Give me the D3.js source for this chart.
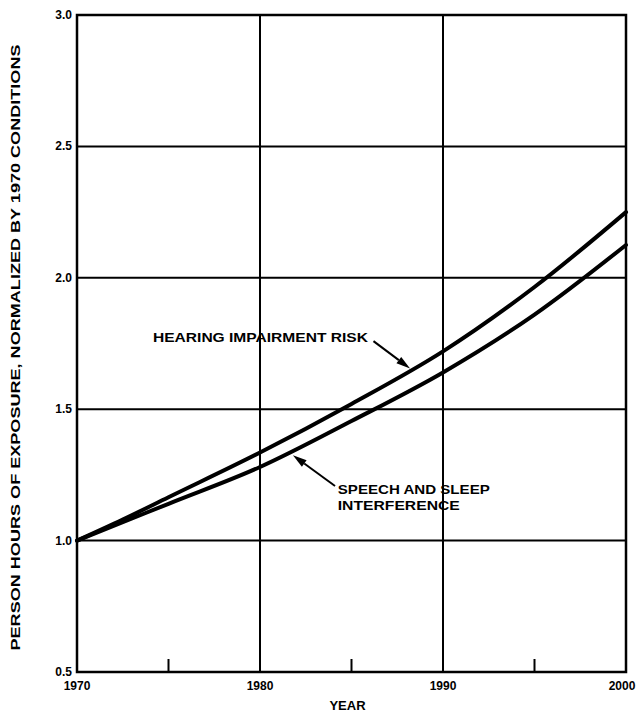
<!DOCTYPE html>
<html>
<head>
<meta charset="utf-8">
<script src="https://cdn.jsdelivr.net/npm/d3@7"></script>
<style>
  body { margin: 0; background: #fff; }
  text { font-family: "Liberation Sans", Arial, sans-serif; font-weight: bold; fill: #000; }
</style>
</head>
<body>
<script>
// values
const years = [1970, 1972.5, 1975, 1980, 1985, 1990, 1995, 2000]
const hearingRisk = [1.0, 1.08, 1.165, 1.335, 1.52, 1.72, 1.965, 2.25]
const speechSleep = [1.0, 1.07, 1.14, 1.28, 1.455, 1.64, 1.86, 2.125]

const xGrid = [1980, 1990]
const xMinorTicks = [1975, 1985, 1995]
const xTickLabels = [1970, 1980, 1990, 2000]
const yTicks = [0.5, 1.0, 1.5, 2.0, 2.5, 3.0]

const margin = { top: 15, left: 77, right: 14, bottom: 44 },
    width = 640,
    height = 716

const x = d3.scaleLinear()
    .domain([1970, 2000])
    .range([margin.left, width - margin.right])

const y = d3.scaleLinear()
    .domain([0.5, 3.0])
    .range([height - margin.bottom, margin.top])

const svg = d3.select("body").append("svg")
    .attr("width", width)
    .attr("height", height)

// grid
svg.selectAll(".hgrid")
    .data(yTicks.filter(v => v > 0.5 && v < 3.0))
    .enter()
    .append("line")
    .attr("x1", x(1970)).attr("x2", x(2000))
    .attr("y1", d => y(d)).attr("y2", d => y(d))
    .attr("stroke", "#000").attr("stroke-width", 2)

svg.selectAll(".vgrid")
    .data(xGrid)
    .enter()
    .append("line")
    .attr("x1", d => x(d)).attr("x2", d => x(d))
    .attr("y1", y(0.5)).attr("y2", y(3.0))
    .attr("stroke", "#000").attr("stroke-width", 2)

svg.selectAll(".minor")
    .data(xMinorTicks)
    .enter()
    .append("line")
    .attr("x1", d => x(d)).attr("x2", d => x(d))
    .attr("y1", y(0.5)).attr("y2", y(0.5) - 13)
    .attr("stroke", "#000").attr("stroke-width", 2)

// frame
svg.append("rect")
    .attr("x", x(1970)).attr("y", y(3.0))
    .attr("width", x(2000) - x(1970))
    .attr("height", y(0.5) - y(3.0))
    .attr("fill", "none")
    .attr("stroke", "#000")
    .attr("stroke-width", 2.5)

// tick labels
svg.selectAll(".ylab")
    .data(yTicks)
    .enter()
    .append("text")
    .attr("x", x(1970) - 5)
    .attr("y", d => y(d) + 4)
    .attr("text-anchor", "end")
    .attr("font-size", 12)
    .text(d => d.toFixed(1))

svg.selectAll(".xlab")
    .data(xTickLabels)
    .enter()
    .append("text")
    .attr("x", d => x(d) - (d === 2000 ? 4 : 0))
    .attr("y", y(0.5) + 18)
    .attr("text-anchor", "middle")
    .attr("font-size", 12)
    .text(d => d)

svg.append("text")
    .attr("x", (x(1970) + x(2000)) / 2 - 4)
    .attr("y", height - 6)
    .attr("text-anchor", "middle")
    .attr("font-size", 13)
    .text("YEAR")

svg.append("text")
    .attr("transform", `translate(20, ${(y(0.5) + y(3.0)) / 2 + 4}) rotate(-90)`)
    .attr("text-anchor", "middle")
    .attr("font-size", 13)
    .attr("textLength", 606)
    .attr("lengthAdjust", "spacingAndGlyphs")
    .text("PERSON HOURS OF EXPOSURE, NORMALIZED BY 1970 CONDITIONS")

// curves
const line = d3.line()
    .x(d => x(d[0]))
    .y(d => y(d[1]))
    .curve(d3.curveMonotoneX)

;[hearingRisk, speechSleep].forEach(series => {
    svg.append("path")
        .datum(years.map((yr, i) => [yr, series[i]]))
        .attr("d", line)
        .attr("fill", "none")
        .attr("stroke", "#000")
        .attr("stroke-width", 4)
        .attr("stroke-linecap", "round")
})

// labels with arrows
function arrow(from, to) {
    const x1 = x(from[0]), y1 = y(from[1]), x2 = x(to[0]), y2 = y(to[1])
    const a = Math.atan2(y2 - y1, x2 - x1)
    const len = 14, half = 4
    const bx = x2 - len * Math.cos(a), by = y2 - len * Math.sin(a)
    svg.append("line")
        .attr("x1", x1).attr("y1", y1).attr("x2", bx).attr("y2", by)
        .attr("stroke", "#000").attr("stroke-width", 2)
    svg.append("path")
        .attr("d", `M${x2},${y2}L${bx - half * Math.sin(a)},${by + half * Math.cos(a)}L${bx + half * Math.sin(a)},${by - half * Math.cos(a)}Z`)
        .attr("fill", "#000")
}

svg.append("text")
    .attr("x", x(1985.9))
    .attr("y", y(1.773) + 5)
    .attr("text-anchor", "end")
    .attr("font-size", 13)
    .attr("textLength", 215)
    .attr("lengthAdjust", "spacingAndGlyphs")
    .text("HEARING IMPAIRMENT RISK")
arrow([1986.2, 1.759], [1988.2, 1.655])

svg.append("text")
    .attr("x", x(1984.25))
    .attr("y", y(1.177))
    .attr("font-size", 13)
    .attr("textLength", 152)
    .attr("lengthAdjust", "spacingAndGlyphs")
    .text("SPEECH AND SLEEP")
svg.append("text")
    .attr("x", x(1984.25))
    .attr("y", y(1.117))
    .attr("font-size", 13)
    .attr("textLength", 122)
    .attr("lengthAdjust", "spacingAndGlyphs")
    .text("INTERFERENCE")
arrow([1984.1, 1.208], [1981.8, 1.325])
</script>
</body>
</html>
